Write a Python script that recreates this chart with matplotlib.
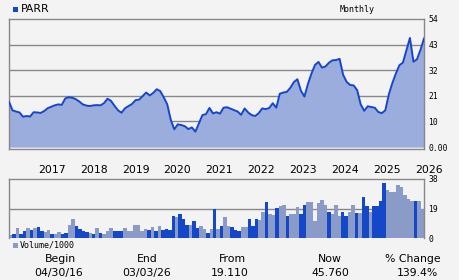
import numpy as np
import matplotlib
matplotlib.use("Agg")
import matplotlib.pyplot as plt
import matplotlib.transforms as mtransforms
from matplotlib.patches import Rectangle

# ---- data ----
price = [19.1, 15.5, 15.0, 14.6, 12.8, 13.1, 12.9, 14.7, 14.6, 14.4,
         15.2, 16.4, 17.0, 17.6, 18.0, 17.8, 20.5, 21.0, 20.8, 20.2,
         19.2, 18.0, 17.5, 17.3, 17.6, 17.7, 17.6, 18.5, 20.4, 19.5,
         17.4, 15.5, 14.5, 16.4, 17.3, 18.2, 19.8, 20.0, 21.5, 23.0,
         21.8, 22.8, 24.4, 23.6, 21.0, 18.0, 11.5, 7.5, 9.6, 9.3,
         8.8, 7.6, 8.3, 6.5, 10.0, 13.5, 13.9, 16.5, 14.2, 14.7,
         14.1, 16.6, 16.8, 16.2, 15.6, 15.0, 13.6, 16.3, 14.6, 13.5,
         13.1, 14.3, 16.3, 16.0, 16.5, 18.5, 16.6, 22.5, 23.0, 23.3,
         25.0, 27.4, 28.6, 23.8, 21.3, 26.6, 31.0, 34.6, 35.9, 33.5,
         34.0, 35.6, 36.6, 36.7, 37.2, 30.5, 27.5, 26.2, 26.0, 24.0,
         18.0, 15.3, 17.2, 16.9, 16.6, 14.8, 14.3, 15.5, 22.2, 27.0,
         31.0, 34.5, 35.6, 40.8, 46.0, 36.0, 37.0, 41.0, 45.76]

volume = [1.7, 2.3, 6.2, 2.5, 4.2, 6.2, 5.4, 6.2, 6.9, 4.4,
          3.8, 5.4, 2.3, 2.3, 3.8, 2.5, 2.9, 8.5, 12.5, 7.5,
          5.6, 4.8, 3.8, 3.5, 2.3, 6.2, 3.5, 2.3, 4.8, 6.7,
          4.8, 4.2, 4.2, 6.7, 4.4, 4.8, 8.5, 8.5, 4.8, 6.0,
          5.4, 7.3, 4.8, 7.9, 5.4, 6.0, 5.4, 14.2, 13.5, 15.4,
          12.3, 8.5, 8.5, 11.0, 6.7, 7.9, 6.0, 3.5, 6.0, 18.75,
          6.0, 7.8, 13.3, 8.0, 7.0, 4.9, 4.5, 6.8, 6.8, 12.2,
          8.0, 12.2, 11.8, 16.7, 23.0, 15.4, 15.0, 19.4, 20.5, 21.0,
          14.1, 15.4, 15.4, 19.8, 15.4, 21.0, 23.0, 23.0, 11.2, 22.4,
          24.3, 21.0, 16.9, 15.4, 21.3, 14.1, 17.0, 14.3, 16.9, 21.3,
          16.0, 16.0, 26.2, 20.5, 16.9, 20.5, 20.5, 23.6, 35.6, 30.6,
          29.7, 29.7, 34.4, 32.9, 28.0, 25.1, 23.8, 23.8, 23.6, 19.0]

# 1 = dark blue bar, 0 = grey-blue bar
vol_dark = [0, 1, 0, 1, 1, 0, 1, 0, 1, 1,
            0, 0, 1, 0, 0, 1, 1, 0, 0, 1,
            1, 1, 1, 0, 1, 0, 1, 0, 0, 0,
            1, 1, 1, 0, 0, 0, 0, 0, 0, 0,
            1, 0, 1, 0, 1, 1, 1, 1, 0, 1,
            1, 1, 0, 1, 1, 0, 0, 1, 0, 1,
            0, 1, 0, 0, 1, 1, 1, 0, 0, 1,
            1, 1, 0, 0, 1, 0, 0, 1, 0, 0,
            1, 0, 0, 0, 1, 1, 0, 0, 0, 0,
            0, 0, 1, 0, 0, 0, 1, 1, 0, 0,
            1, 0, 1, 1, 0, 1, 1, 1, 1, 0,
            0, 0, 0, 0, 0, 0, 0, 1, 0, 0]

years = [2017, 2018, 2019, 2020, 2021, 2022, 2023, 2024, 2025, 2026]
price_ticks = [0, 10.8, 21.6, 32.4, 43.2, 54]
price_tick_labels = ["0.00", "10", "21", "32", "43", "54"]
vol_ticks = [0, 19, 38]
vol_tick_labels = ["0", "19", "38"]

symbol = "PARR"
footer_heads = ["Begin", "End", "From", "Now", "% Change"]
footer_vals = ["04/30/16", "03/03/26", "19.110", "45.760", "139.4%"]

# ---- style ----
BG = "#f3f3f3"
LINE = "#1646cc"
FILL = "#9aaddc"
DARK = "#1448c8"
LIGHT = "#8a9bc8"
GRID = "#888888"
W, H = 460, 280

fig = plt.figure(figsize=(W / 100, H / 100), dpi=100, facecolor=BG)

def fx(px):
    return px / W

def fy(py):
    return 1 - py / H

# price axes: px 9..424 horizontally, 19..149 vertically
axp = fig.add_axes([fx(9), fy(149), fx(415), (149 - 19) / H], facecolor=BG)
x = np.arange(len(price))
for yv in price_ticks[1:-1]:
    axp.axhline(yv, color=GRID, lw=1.0, zorder=0.5)
axp.fill_between(x, price, 0, color=FILL, lw=0, zorder=1)
axp.plot(x, price, color=LINE, lw=1.4, zorder=4)
axp.set_xlim(0, len(price) - 1)
axp.set_ylim(-0.8, 54)
for s in axp.spines.values():
    s.set_color(GRID)
    s.set_linewidth(1.0)
axp.set_yticks(price_ticks)
axp.set_yticklabels(price_tick_labels, family="DejaVu Sans Mono", fontsize=5.8)
axp.yaxis.tick_right()
axp.tick_params(axis="y", length=0, pad=3)
axp.set_xticks([])

# year labels below the price panel
n_pts = len(price) - 1
trans = mtransforms.blended_transform_factory(axp.transData, fig.transFigure)
for yr in years:
    pos = (yr - 2016) * 11.9 * n_pts / 118 + 0.3
    axp.text(pos, fy(170), str(yr), transform=trans, fontsize=7.8, ha="center",
             va="center", family="DejaVu Sans", clip_on=False)

# volume axes: px 9..424 horizontally, 179..238 vertically
axv = fig.add_axes([fx(9), fy(238), fx(415), (238 - 179) / H], facecolor=BG)
xv = np.arange(len(volume)) + 0.5
cols = [DARK if d else LIGHT for d in vol_dark]
axv.bar(xv, volume, width=1.0, color=cols, lw=0, zorder=2)
axv.set_xlim(0, len(volume))
axv.set_ylim(0, 38)
axv.axhline(19, color=GRID, lw=1.0, zorder=1)
for k, s in axv.spines.items():
    s.set_color(GRID)
    s.set_linewidth(1.0)
axv.spines["bottom"].set_visible(False)
axv.set_xticks([])
axv.yaxis.tick_right()
axv.set_yticks(vol_ticks)
axv.set_yticklabels(vol_tick_labels, family="DejaVu Sans Mono", fontsize=5.8)
axv.tick_params(length=0, pad=3)

# header
fig.patches.append(Rectangle((fx(13), fy(12)), fx(5), 5 / H, transform=fig.transFigure,
                             color=DARK, lw=0))
fig.text(fx(21), fy(9), symbol, fontsize=7.8, va="center", ha="left", family="DejaVu Sans")
fig.text(fx(357), fy(9), "Monthly", fontsize=6, va="center", ha="center",
         family="DejaVu Sans Mono")

# volume legend
fig.patches.append(Rectangle((fx(13), fy(248)), fx(5), 5 / H, transform=fig.transFigure,
                             color=LIGHT, lw=0))
fig.text(fx(20), fy(245.5), "Volume/1000", fontsize=6, va="center", ha="left",
         family="DejaVu Sans Mono")

# footer
head_x = [60, 147, 232, 330, 413]
val_x = [59, 147, 230, 330, 417]
for hx, vx, h, v in zip(head_x, val_x, footer_heads, footer_vals):
    fig.text(fx(hx), fy(259), h, fontsize=7.8, ha="center", va="center", family="DejaVu Sans")
    fig.text(fx(vx), fy(273), v, fontsize=7.8, ha="center", va="center", family="DejaVu Sans")

fig.savefig("out.png", dpi=100, facecolor=BG)
